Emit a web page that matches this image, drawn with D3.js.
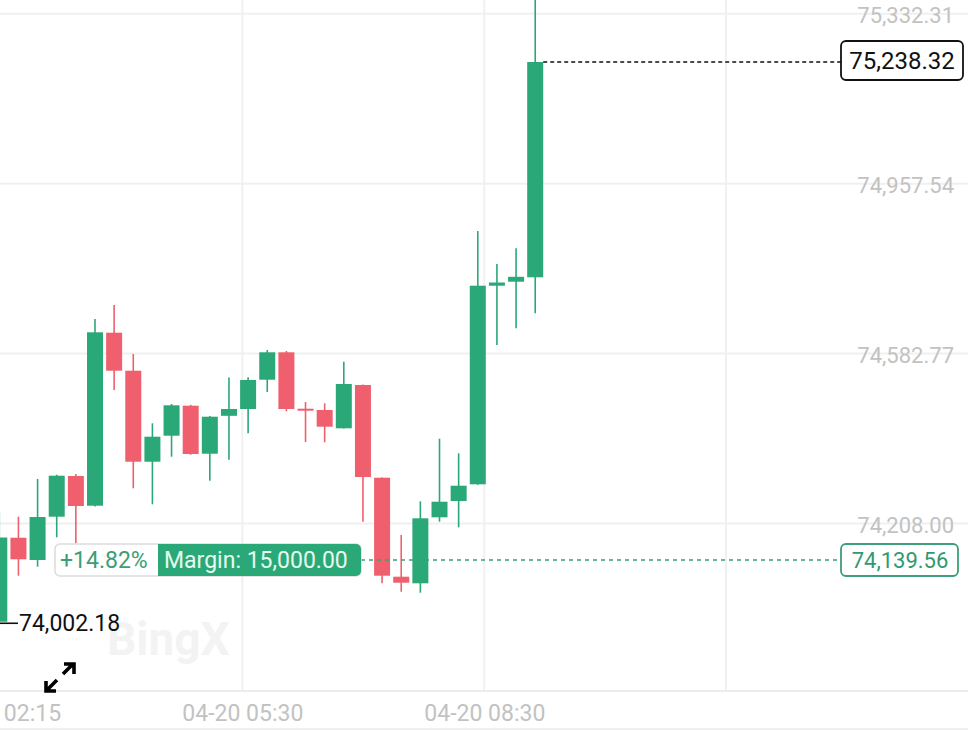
<!DOCTYPE html>
<html>
<head>
<meta charset="utf-8">
<script src="https://cdn.jsdelivr.net/npm/d3@7/dist/d3.min.js"></script>
<style>
  body { margin: 0; background: #fff; }
  svg { display: block; font-family: Roboto, "Noto Sans", sans-serif; }
</style>
</head>
<body>
<div id="chart"></div>
<script>
// candle values, 15m bars, oldest first
var candleOpen  = [74003.4, 74188.74, 74139.54, 74235.07, 74324.87, 74259.34, 74641.05, 74557.21, 74356.42, 74413.79,
                   74479.98, 74374.08, 74457.7, 74472.7, 74537.35, 74597.8, 74473.36, 74470.5, 74430.12, 74525.66,
                   74321.12, 74102.69, 74088.13, 74233.75, 74269.71, 74306.56, 74744.75, 74753.58, 74763.29];
var candleHigh  = [74245.44, 74235.07, 74318.25, 74327.74, 74329.29, 74671.28, 74702.17, 74594.05, 74441.15, 74483.73,
                   74481.97, 74457.26, 74542.2, 74542.65, 74602.88, 74600.67, 74488.15, 74485.28, 74577.07, 74526.76,
                   74321.8, 74194.7, 74269.05, 74407.17, 74374.96, 74865.44, 74792.63, 74827.27, 75388.4];
var candleLow   = [74002.18, 74104.9, 74124.75, 74189.62, 74176.38, 74257.58, 74514.62, 74297.73, 74262.43, 74367.46,
                   74371.87, 74314.5, 74360.84, 74419.09, 74510.21, 74467.63, 74399.89, 74399.23, 74429.46, 74224.04,
                   74088.13, 74069.59, 74067.39, 74224.04, 74211.69, 74305.46, 74613.91, 74650.76, 74683.85];
var candleClose = [74189.18, 74141.08, 74234.41, 74325.54, 74258.68, 74641.93, 74557.21, 74356.42, 74411.58, 74480.87,
                   74373.41, 74455.71, 74472.7, 74536.69, 74597.8, 74472.7, 74470.94, 74433.65, 74527.86, 74322.67,
                   74104.9, 74089.45, 74231.54, 74268.17, 74303.47, 74744.75, 74751.81, 74764.39, 75238.32];

var priceTicks = [75332.31, 74957.54, 74582.77, 74208.00];
var timeTickIndex = [0.04, 12.7, 25.34, 37.97];
var timeTickLabels = ["04-20 02:15", "04-20 05:30", "04-20 08:30", ""];

var lastPrice = 75238.32;
var entryPrice = 74139.56;
var lowPrice = 74002.18;
var pnlText = "+14.82%";
var marginText = "Margin: 15,000.00";

var svgWidth = 968;
var svgHeight = 732;
var axisY = 691;

var green = "#2ba877";
var red = "#ef5f6d";
var gridColor = "#f0f0f0";
var labelGrey = "#c2c2c2";

var svg = d3.select("#chart")
  .append("svg")
  .attr("width", svgWidth)
  .attr("height", svgHeight);

svg.append("rect")
  .attr("width", svgWidth)
  .attr("height", svgHeight)
  .attr("fill", "#fff");

var xScale = d3.scaleLinear()
  .domain([0, 28])
  .range([-0.7, 535.2]);

var yScale = d3.scaleLinear()
  .domain([entryPrice, lastPrice])
  .range([560, 62]);

// grid
svg.append("g").selectAll("line")
  .data(priceTicks)
  .enter()
  .append("line")
  .attr("x1", 0)
  .attr("x2", svgWidth)
  .attr("y1", d => yScale(d) - 5.6)
  .attr("y2", d => yScale(d) - 5.6)
  .attr("stroke", gridColor)
  .attr("stroke-width", 2);

svg.append("g").selectAll("line")
  .data(timeTickIndex.slice(1))
  .enter()
  .append("line")
  .attr("x1", d => xScale(d))
  .attr("x2", d => xScale(d))
  .attr("y1", 0)
  .attr("y2", axisY)
  .attr("stroke", gridColor)
  .attr("stroke-width", 2);

svg.append("line")
  .attr("x1", 0).attr("x2", svgWidth)
  .attr("y1", axisY).attr("y2", axisY)
  .attr("stroke", "#ececec")
  .attr("stroke-width", 2);

svg.append("line")
  .attr("x1", 0).attr("x2", svgWidth)
  .attr("y1", 729).attr("y2", 729)
  .attr("stroke", "#f0f0f0")
  .attr("stroke-width", 2);

// watermark
svg.append("text")
  .attr("x", 107)
  .attr("y", 655)
  .attr("fill", "#f3f3f3")
  .style("font-size", "46px")
  .style("font-weight", "bold")
  .text("BingX");

// price axis labels
var rightAxis = d3.axisLeft(yScale)
  .tickValues(priceTicks)
  .tickFormat(d3.format(",.2f"))
  .tickSize(0)
  .tickPadding(0);

var priceAxis = svg.append("g")
  .attr("transform", "translate(954, -3.5)")
  .call(rightAxis);
priceAxis.select(".domain").remove();
priceAxis.selectAll("text")
  .attr("fill", labelGrey)
  .style("font-size", "22px")
  .style("font-family", "Roboto");

// time axis labels
var bottomAxis = d3.axisBottom(xScale)
  .tickValues(timeTickIndex)
  .tickFormat((d, i) => timeTickLabels[i])
  .tickSize(0)
  .tickPadding(14);

var timeAxis = svg.append("g")
  .attr("transform", `translate(0, ${axisY})`)
  .call(bottomAxis);
timeAxis.select(".domain").remove();
timeAxis.selectAll("text")
  .attr("fill", labelGrey)
  .style("font-size", "23px")
  .style("font-family", "Roboto");

// candles
var candles = svg.append("g").selectAll("g")
  .data(candleOpen.map((o, i) => i))
  .enter()
  .append("g");

candles.append("line")
  .attr("x1", i => xScale(i))
  .attr("x2", i => xScale(i))
  .attr("y1", i => yScale(candleHigh[i]))
  .attr("y2", i => yScale(candleLow[i]))
  .attr("stroke", i => candleClose[i] >= candleOpen[i] ? green : red)
  .attr("stroke-width", 1.6);

candles.append("rect")
  .attr("x", i => xScale(i) - 8)
  .attr("width", 16)
  .attr("y", i => yScale(Math.max(candleOpen[i], candleClose[i])))
  .attr("height", i => Math.max(2, Math.abs(yScale(candleOpen[i]) - yScale(candleClose[i]))))
  .attr("fill", i => candleClose[i] >= candleOpen[i] ? green : red);

// last price line + label
var lastY = yScale(lastPrice);
svg.append("line")
  .attr("x1", xScale(28) + 8)
  .attr("x2", 841)
  .attr("y1", lastY)
  .attr("y2", lastY)
  .attr("stroke", "#111")
  .attr("stroke-width", 1.3)
  .attr("stroke-dasharray", "4,3");

svg.append("rect")
  .attr("x", 841)
  .attr("y", lastY - 21)
  .attr("width", 122)
  .attr("height", 39)
  .attr("rx", 5)
  .attr("fill", "#fff")
  .attr("stroke", "#111")
  .attr("stroke-width", 1.8);

svg.append("text")
  .attr("x", 902)
  .attr("y", lastY - 1.5)
  .attr("text-anchor", "middle")
  .attr("dominant-baseline", "central")
  .attr("fill", "#111")
  .style("font-size", "24px")
  .text(d3.format(",.2f")(lastPrice));

// entry price line + labels
var entryY = yScale(entryPrice);
svg.append("line")
  .attr("x1", 361)
  .attr("x2", 841)
  .attr("y1", entryY)
  .attr("y2", entryY)
  .attr("stroke", "#3d9e79")
  .attr("stroke-width", 1.3)
  .attr("stroke-dasharray", "4,4");

svg.append("rect")
  .attr("x", 841)
  .attr("y", entryY - 16)
  .attr("width", 117)
  .attr("height", 32)
  .attr("rx", 5)
  .attr("fill", "#fff")
  .attr("stroke", "#3d9e79")
  .attr("stroke-width", 1.8);

svg.append("text")
  .attr("x", 900)
  .attr("y", entryY)
  .attr("text-anchor", "middle")
  .attr("dominant-baseline", "central")
  .attr("fill", "#2f9a6e")
  .style("font-size", "22px")
  .text(d3.format(",.2f")(entryPrice));

svg.append("rect")
  .attr("x", 55)
  .attr("y", entryY - 16)
  .attr("width", 306)
  .attr("height", 32)
  .attr("rx", 5)
  .attr("fill", "#fff")
  .attr("stroke", "#dcdcdc")
  .attr("stroke-width", 1.5);

svg.append("path")
  .attr("d", `M158,${entryY - 16} H356 a5,5 0 0 1 5,5 V${entryY + 11} a5,5 0 0 1 -5,5 H158 Z`)
  .attr("fill", green);

svg.append("text")
  .attr("x", 60)
  .attr("y", entryY)
  .attr("dominant-baseline", "central")
  .attr("fill", "#3a9e76")
  .style("font-size", "23px")
  .text(pnlText);

svg.append("text")
  .attr("x", 164)
  .attr("y", entryY)
  .attr("dominant-baseline", "central")
  .attr("fill", "#e4fbef")
  .style("font-size", "23px")
  .text(marginText);

// lowest price marker
var lowY = yScale(lowPrice);
svg.append("line")
  .attr("x1", 0).attr("x2", 18)
  .attr("y1", lowY + 1).attr("y2", lowY + 1)
  .attr("stroke", "#111")
  .attr("stroke-width", 1.6);

svg.append("text")
  .attr("x", 19)
  .attr("y", lowY + 1)
  .attr("dominant-baseline", "central")
  .attr("fill", "#111")
  .style("font-size", "23px")
  .text(d3.format(",.2f")(lowPrice));

// expand icon
var icon = svg.append("g")
  .attr("fill", "none")
  .attr("stroke", "#000")
  .attr("stroke-width", 3.6);
icon.append("path").attr("d", "M63,674 L73,664 M64,664 H74 V674");
icon.append("path").attr("d", "M57,680 L47,690 M46,681 V691 H56");
</script>
</body>
</html>
